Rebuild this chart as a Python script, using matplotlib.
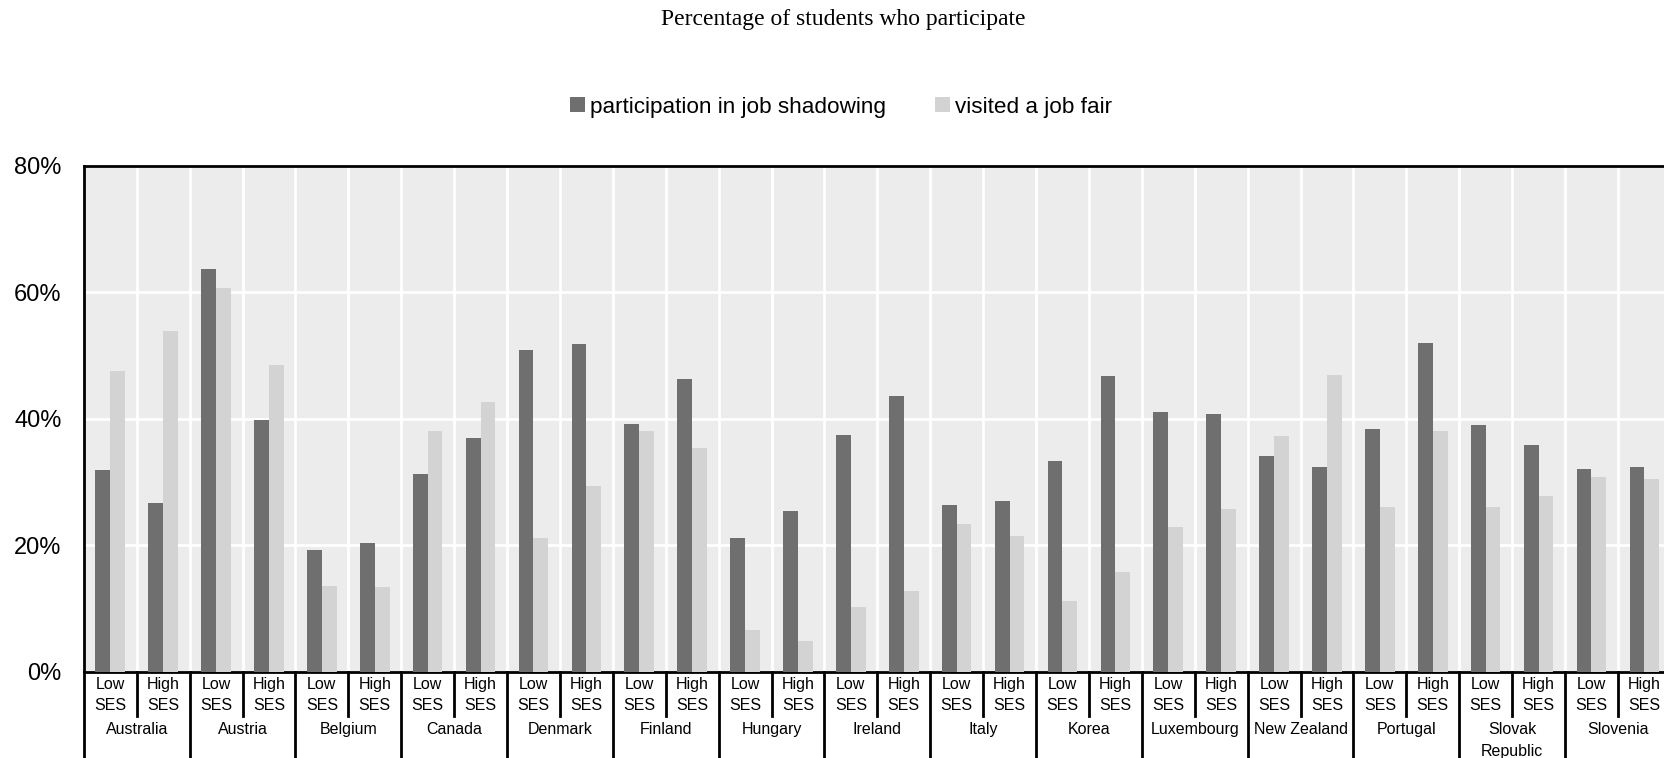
import numpy as np
import matplotlib
matplotlib.use("Agg")
import matplotlib.pyplot as plt

countries = ["Australia", "Austria", "Belgium", "Canada", "Denmark", "Finland",
             "Hungary", "Ireland", "Italy", "Korea", "Luxembourg", "New Zealand",
             "Portugal", "Slovak\nRepublic", "Slovenia"]
groups = ["Low\nSES", "High\nSES"]

# pairs per country: (Low SES, High SES)
shadowing = [31.8, 26.6, 63.7, 39.8, 19.2, 20.3, 31.3, 36.9, 50.9, 51.8,
             39.1, 46.3, 21.1, 25.4, 37.4, 43.6, 26.3, 27.0, 33.3, 46.8,
             41.1, 40.8, 34.1, 32.3, 38.4, 51.9, 39.0, 35.9, 32.1, 32.3]
job_fair = [47.6, 53.8, 60.7, 48.4, 13.6, 13.4, 38.1, 42.6, 21.1, 29.3,
            38.1, 35.4, 6.6, 4.8, 10.3, 12.8, 23.4, 21.5, 11.2, 15.8,
            22.8, 25.7, 37.3, 46.9, 26.1, 38.1, 26.0, 27.8, 30.8, 30.4]

plt.rcParams['font.family'] = ['Liberation Sans', 'DejaVu Sans']

W, H = 1664, 758
fig = plt.figure(figsize=(W / 100, H / 100), dpi=100)
ax = fig.add_axes([83.8 / W, 1 - 671.7 / H, 30 * 52.9 / W, (671.7 - 165.5) / H])

n = len(shadowing)
centers = np.arange(n) + 0.5
bw = 0.28
dark, light = "#6f6f6f", "#d3d3d3"
b1 = ax.bar(centers - bw / 2, shadowing, bw, color=dark, zorder=3, label="participation in job shadowing")
b2 = ax.bar(centers + bw / 2, job_fair, bw, color=light, zorder=3, label="visited a job fair")

ax.set_xlim(0, n)
ax.set_ylim(0, 80)
ax.set_facecolor("#ececec")
ax.set_yticks([0, 20, 40, 60, 80])
ax.set_yticklabels([f"{v}%" for v in [0, 20, 40, 60, 80]], fontsize=17)
ax.tick_params(axis='y', length=0, pad=16)
ax.set_xticks(np.arange(1, n))
ax.tick_params(axis='x', length=0, labelbottom=False)
ax.grid(True, color="white", linewidth=2, zorder=0)
ax.set_axisbelow(True)
for s in ["left", "top", "bottom"]:
    ax.spines[s].set_linewidth(2)
    ax.spines[s].set_color("black")
ax.spines["right"].set_visible(False)

# category axis below the plot
axh = 506.2  # axes height in px
xt = ax.get_xaxis_transform()
for i in range(n):
    for l, line in enumerate(groups[i % 2].split("\n")):
        ax.text(centers[i], -(13 + 20.5 * l) / axh, line, transform=xt, ha="center", va="center",
                fontsize=11.5)
for k in range(1, n, 2):
    ax.plot([k, k], [0, -44 / axh], transform=xt, color="black", lw=2, clip_on=False)
for k in range(0, n + 1, 2):
    ax.plot([k, k], [0, -90 / axh], transform=xt, color="black", lw=2, clip_on=False)
for j, c in enumerate(countries):
    for l, line in enumerate(c.split("\n")):
        ax.text(2 * j + 1, -(58 + 21.5 * l) / axh, line, transform=xt, ha="center", va="center",
                fontsize=11.5)

fig.text(843 / W, 1 - 20 / H, "Percentage of students who participate", ha="center", va="center",
         family="Liberation Serif", fontsize=17)
fig.legend(handles=[b1, b2], loc="center", bbox_to_anchor=(841 / W, 1 - 107 / H), ncol=2,
           frameon=False, fontsize=16.2, handlelength=0.66, handleheight=0.66,
           handletextpad=0.23, columnspacing=2.2, borderpad=0)

fig.savefig("out.png", dpi=100)
